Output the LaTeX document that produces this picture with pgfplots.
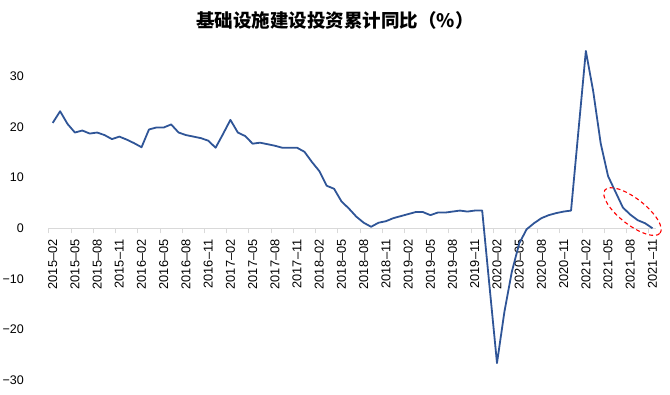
\documentclass[border=0pt]{standalone}
\usepackage{fontspec}
\setmainfont{Liberation Sans}
\newfontfamily\cjk{Noto Sans CJK SC}
\usepackage{pgfplots}
\pgfplotsset{compat=1.18}
\definecolor{lineblue}{RGB}{47,85,151}
\definecolor{axgray}{RGB}{217,217,217}
\begin{document}
\begin{tikzpicture}[x=1pt,y=1pt]
\begin{axis}[
  at={(49pt,14.7pt)}, anchor=south west,
  width=607.2pt, height=334.4pt, scale only axis,
  xmin=-0.5, xmax=81.5, ymin=-30, ymax=36,
  axis x line=middle, axis y line=left,
  hide obscured x ticks=false, hide obscured y ticks=false,
  x axis line style={-, draw=axgray, line width=1pt},
  y axis line style={draw=none},
  xtick={-0.5,2.5,...,80.5},
  xticklabels={2015–02,2015–05,2015–08,2015–11,2016–02,2016–05,2016–08,2016–11,2017–02,2017–05,2017–08,2017–11,2018–02,2018–05,2018–08,2018–11,2019–02,2019–05,2019–08,2019–11,2020–02,2020–05,2020–08,2020–11,2021–02,2021–05,2021–08,2021–11},
  xticklabel style={xshift=3.7pt, yshift=-6pt, rotate=90, anchor=east, inner sep=0pt, font=\fontsize{12.8}{14}\selectfont},
  x tick style={draw=axgray, line width=1pt},
  tick align=outside, major tick length=5pt,
  ytick={-30,-20,-10,0,10,20,30},
  yticklabels={−30,−20,−10,0,10,20,30},
  y tick style={draw=none},
  yticklabel style={anchor=east, inner sep=0pt, xshift=-20pt, font=\fontsize{12.5}{14}\selectfont},
  clip=false,
]
\addplot[lineblue, line width=1.8pt, line join=round, mark=none] coordinates {
(0,20.8) (1,23.1) (2,20.6) (3,18.9) (4,19.3) (5,18.7) (6,18.9) (7,18.4) (8,17.6) (9,18.1)
(10,17.5) (11,16.8) (12,16.0) (13,19.5) (14,19.9) (15,19.9) (16,20.5) (17,18.9) (18,18.4) (19,18.1)
(20,17.8) (21,17.3) (22,15.9) (23,18.6) (24,21.4) (25,18.9) (26,18.2) (27,16.7) (28,16.9) (29,16.6)
(30,16.3) (31,15.9) (32,15.9) (33,15.9) (34,15.1) (35,13.1) (36,11.3) (37,8.4) (38,7.8) (39,5.3)
(40,3.9) (41,2.3) (42,1.1) (43,0.3) (44,1.1) (45,1.4) (46,2.0) (47,2.4) (48,2.8) (49,3.2)
(50,3.2) (51,2.6) (52,3.1) (53,3.1) (54,3.3) (55,3.5) (56,3.3) (57,3.5) (58,3.5) (59,-11.6)
(60,-26.6) (61,-16.5) (62,-8.6) (63,-3.0) (64,-0.2) (65,1.0) (66,2.0) (67,2.6) (68,3.0) (69,3.3)
(70,3.5) (71,19.25) (72,35.0) (73,27.0) (74,16.8) (75,10.3) (76,7.2) (77,4.1) (78,2.7) (79,1.6)
(80,1.0) (81,0.0)
};
\coordinate (E) at (axis cs:78.3,3.3);
\end{axis}
\draw[red, dashed, dash pattern=on 4pt off 3pt, line width=1.1pt, rotate around={-38:(E)}] (E) ellipse (35pt and 13pt);
\node[font=\cjk\bfseries\fontsize{18.5}{22}\selectfont] at (335pt,375pt) {基础设施建设投资累计同比（\%）};
\pgfresetboundingbox
\useasboundingbox (0,0) rectangle (670pt,395pt);
\end{tikzpicture}
\end{document}
